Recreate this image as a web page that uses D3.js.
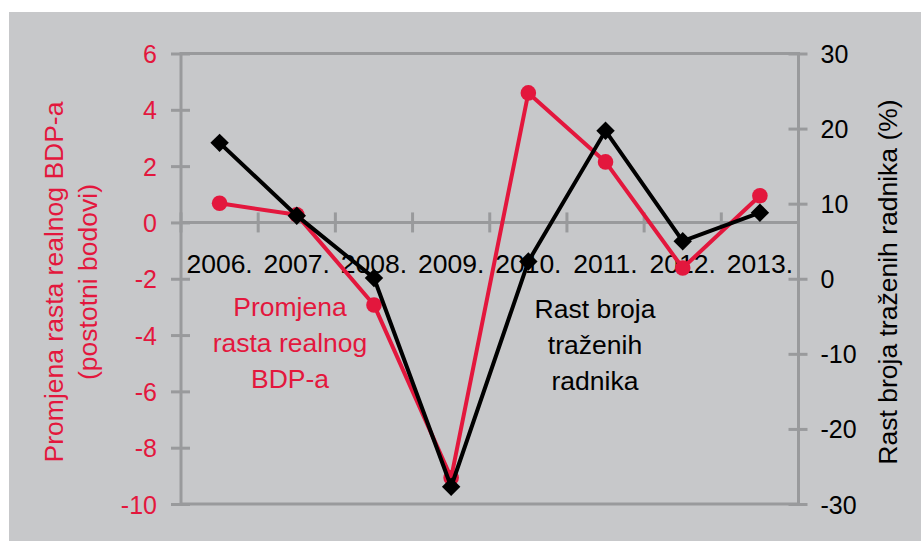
<!DOCTYPE html>
<html><head><meta charset="utf-8">
<script src="https://cdn.jsdelivr.net/npm/d3@7"></script>
<style>html,body{margin:0;padding:0;background:#fff;}svg{display:block;font-family:"Liberation Sans",Arial,sans-serif;}</style>
</head><body>
<svg id="c" width="921" height="541"></svg>
<script>
const categories = ["2006.","2007.","2008.","2009.","2010.","2011.","2012.","2013."];
const gdpChange = [0.68, 0.27, -2.93, -9.07, 4.6, 2.15, -1.62, 0.95];
const jobGrowth = [18.1, 8.4, 0.1, -27.7, 2.3, 19.7, 5.0, 8.8];
const leftTicks = [6,4,2,0,-2,-4,-6,-8,-10];
const rightTicks = [30,20,10,0,-10,-20,-30];
const leftTitle = ["Promjena rasta realnog BDP-a","(postotni bodovi)"];
const rightTitle = "Rast broja traženih radnika (%)";
const redLabel = ["Promjena","rasta realnog","BDP-a"];
const blackLabel = ["Rast broja","traženih","radnika"];

const RED = "#e3173d", AX = "#999a9c", BG = "#c7c8ca";
const svg = d3.select("#c");
svg.append("rect").attr("x",9).attr("y",12).attr("width",912).attr("height",529).attr("fill",BG);

const x0 = 181, x1 = 798.5, yT = 53.5, yB = 504;
const x = d3.scaleBand().domain(categories).range([x0,x1]).padding(0);
const yL = d3.scaleLinear().domain([-10,6]).range([yB,yT]);
const yR = d3.scaleLinear().domain([-30,30]).range([yB,yT]);
const cx = d => x(d) + x.bandwidth()/2;

// top & bottom lines
[6,-10].forEach(v=>{
  svg.append("line").attr("x1",x0).attr("x2",x1).attr("y1",yL(v)).attr("y2",yL(v)).attr("stroke",AX).attr("stroke-width",3);
});

// left axis
const gl = svg.append("g").attr("transform",`translate(${x0},0)`)
  .call(d3.axisLeft(yL).tickValues(leftTicks).tickSize(0).tickFormat(d=>String(d)));
gl.select(".domain").remove();
gl.selectAll(".tick line").remove();
gl.selectAll(".tick").append("line").attr("x1",-10).attr("x2",9).attr("stroke",AX).attr("stroke-width",3);
gl.append("line").attr("y1",yT-1.5).attr("y2",yB+1.5).attr("stroke",AX).attr("stroke-width",3);
gl.selectAll(".tick text").attr("x",-24).attr("dy","0.36em").attr("fill",RED).attr("font-size",25).attr("font-family","Liberation Sans, Arial, sans-serif");

// right axis
const gr = svg.append("g").attr("transform",`translate(${x1},0)`)
  .call(d3.axisRight(yR).tickValues(rightTicks).tickSize(0).tickFormat(d=>String(d)));
gr.select(".domain").remove();
gr.selectAll(".tick").append("line").attr("x1",-10).attr("x2",9).attr("stroke",AX).attr("stroke-width",3);
gr.append("line").attr("y1",yT-1.5).attr("y2",yB+1.5).attr("stroke",AX).attr("stroke-width",3);
gr.selectAll(".tick text").attr("x",22).attr("dy","0.36em").attr("fill","#000").attr("font-size",25).attr("font-family","Liberation Sans, Arial, sans-serif");

// zero axis
const y0 = yL(0);
svg.append("line").attr("x1",x0).attr("x2",x1).attr("y1",y0).attr("y2",y0).attr("stroke",AX).attr("stroke-width",3);
svg.selectAll(".xt").data(categories.map(c=>x(c)).concat([x1])).enter().append("line")
  .attr("x1",d=>d).attr("x2",d=>d).attr("y1",y0-10).attr("y2",y0+10).attr("stroke",AX).attr("stroke-width",3);
svg.selectAll(".xl").data(categories).enter().append("text")
  .attr("x",d=>cx(d)).attr("y",273).attr("text-anchor","middle").attr("font-size",26.5).attr("fill","#000").text(d=>d);

// titles
const lt = svg.append("text").attr("transform","translate(63,282) rotate(-90)").attr("text-anchor","middle").attr("fill",RED).attr("font-size",26.5);
lt.append("tspan").attr("x",0).attr("y",0).text(leftTitle[0]);
lt.append("tspan").attr("x",0).attr("y",34).text(leftTitle[1]);
svg.append("text").attr("transform","translate(897,282) rotate(-90)").attr("text-anchor","middle").attr("fill","#000").attr("font-size",26.5).text(rightTitle);

// annotations
redLabel.forEach((t,i)=>svg.append("text").attr("x",290).attr("y",316+i*36).attr("text-anchor","middle").attr("fill",RED).attr("font-size",26.5).text(t));
blackLabel.forEach((t,i)=>svg.append("text").attr("x",595).attr("y",318+i*36).attr("text-anchor","middle").attr("fill","#000").attr("font-size",26.5).text(t));

// red series
svg.append("path").datum(gdpChange).attr("fill","none").attr("stroke",RED).attr("stroke-width",4).attr("stroke-linejoin","round")
  .attr("d",d3.line().x((d,i)=>cx(categories[i])).y(d=>yL(d)));
svg.selectAll(".rd").data(gdpChange).enter().append("circle")
  .attr("cx",(d,i)=>cx(categories[i])).attr("cy",d=>yL(d)).attr("r",7.8).attr("fill",RED);

// black series
svg.append("path").datum(jobGrowth).attr("fill","none").attr("stroke","#000").attr("stroke-width",4).attr("stroke-linejoin","miter")
  .attr("d",d3.line().x((d,i)=>cx(categories[i])).y(d=>yR(d)));
const dsym = d3.symbol().type(d3.symbolDiamond2 || d3.symbolSquare).size(230);
svg.selectAll(".bd").data(jobGrowth).enter().append("path")
  .attr("transform",(d,i)=>`translate(${cx(categories[i])},${yR(d)}) rotate(45)`)
  .attr("d",d3.symbol().type(d3.symbolSquare).size(170)()).attr("fill","#000");
</script>
</body></html>
